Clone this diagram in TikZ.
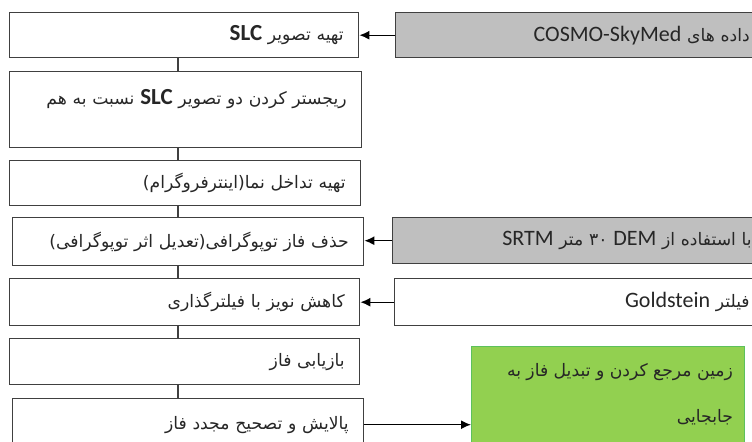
\documentclass[tikz,border=0pt]{standalone}
\usepackage{fontspec}
\setmainfont{Carlito}
\newfontfamily\arabicfont[Script=Arabic]{DejaVu Sans}
\TeXXeTstate=1
\usetikzlibrary{arrows.meta}
\definecolor{boxline}{HTML}{404040}
\definecolor{datagray}{HTML}{BFBFBF}
\definecolor{resgreen}{HTML}{92D050}
\definecolor{resline}{HTML}{5CC15C}
\newcommand{\entxt}[1]{{\rmfamily\fontsize{11}{13}\selectfont #1}}
\newcommand{\entxtb}[1]{{\rmfamily\bfseries\fontsize{11.5}{13}\selectfont #1}}
\begin{document}
\begin{tikzpicture}[x=0.5pt,y=-0.5pt,
    stepbox/.style={draw=boxline,line width=0.7pt,anchor=north west,inner xsep=7.5pt,inner ysep=0pt,
      align=right,text=black!85,font=\arabicfont\fontsize{8.6}{13}\selectfont},
    databox/.style={stepbox,fill=datagray},
    conn/.style={line width=0.7pt,-{Latex[length=5pt,width=4.5pt]}}]
  \useasboundingbox (0,0) rectangle (752,441);
  \clip (0,0) rectangle (752,441);
  \node[stepbox,text width=159.5pt,minimum height=22.5pt] (b1) at (9,12) {\beginR تهیه تصویر \entxtb{SLC}\endR};
  \node[stepbox,text width=161pt,minimum height=38pt] (b2) at (9,71) {\beginR ریجستر کردن دو تصویر \entxtb{SLC} نسبت به هم\endR\\ ~};
  \node[stepbox,text width=160.5pt,minimum height=22.5pt] (b3) at (9,160) {\beginR تهیه تداخل نما(اینترفروگرام)\endR};
  \node[stepbox,text width=160.5pt,minimum height=24pt] (b4) at (12,217) {\beginR حذف فاز توپوگرافی(تعدیل اثر توپوگرافی)\endR};
  \node[stepbox,text width=160pt,minimum height=23.5pt] (b5) at (9,278) {\beginR کاهش نویز با فیلترگذاری\endR};
  \node[stepbox,text width=160pt,minimum height=23pt] (b6) at (9,338) {\beginR بازیابی فاز\endR};
  \node[stepbox,text width=160.5pt,minimum height=26pt] (b7) at (12,398) {\beginR پالایش و تصحیح مجدد فاز\endR};
  \node[databox,text width=169.5pt,minimum height=22.5pt] (sar) at (395,12) {\beginR داده های \entxt{COSMO-SkyMed}\endR};
  \node[databox,text width=172pt,minimum height=23pt] (dem) at (392,217) {\beginR با استفاده از \entxt{DEM} ۳۰ متر \entxt{SRTM}\endR};
  \node[stepbox,text width=170pt,minimum height=23.5pt] (gold) at (394,278) {\beginR فیلتر \entxt{Goldstein}\endR};
  \node[stepbox,draw=resline,fill=resgreen,minimum width=136.5pt,minimum height=78pt] (geo) at (471,346) {};
  \node[anchor=north east,inner sep=0pt,align=right,text=black!85,font=\arabicfont\fontsize{8.6}{23}\selectfont]
    (geotxt) at ([xshift=-6pt,yshift=-8.5pt]geo.north east) {\beginR زمین مرجع کردن و تبدیل فاز به\endR\\ \beginR جابجایی\endR};
  \coordinate (spine) at (178,0);
  \draw[line width=0.7pt,draw=boxline] (b1.south -| spine) -- (b2.north -| spine);
  \draw[line width=0.7pt,draw=boxline] (b2.south -| spine) -- (b3.north -| spine);
  \draw[line width=0.7pt,draw=boxline] (b3.south -| spine) -- (b4.north -| spine);
  \draw[line width=0.7pt,draw=boxline] (b4.south -| spine) -- (b5.north -| spine);
  \draw[line width=0.7pt,draw=boxline] (b5.south -| spine) -- (b6.north -| spine);
  \draw[line width=0.7pt,draw=boxline] (b6.south -| spine) -- (b7.north -| spine);
  \draw[conn] (sar.west) -- (sar.west -| b1.east);
  \draw[conn] (dem.west) -- (dem.west -| b4.east);
  \draw[conn] (gold.west) -- (gold.west -| b5.east);
  \draw[conn] (b7.east) -- (b7.east -| geo.west);
\end{tikzpicture}
\end{document}
